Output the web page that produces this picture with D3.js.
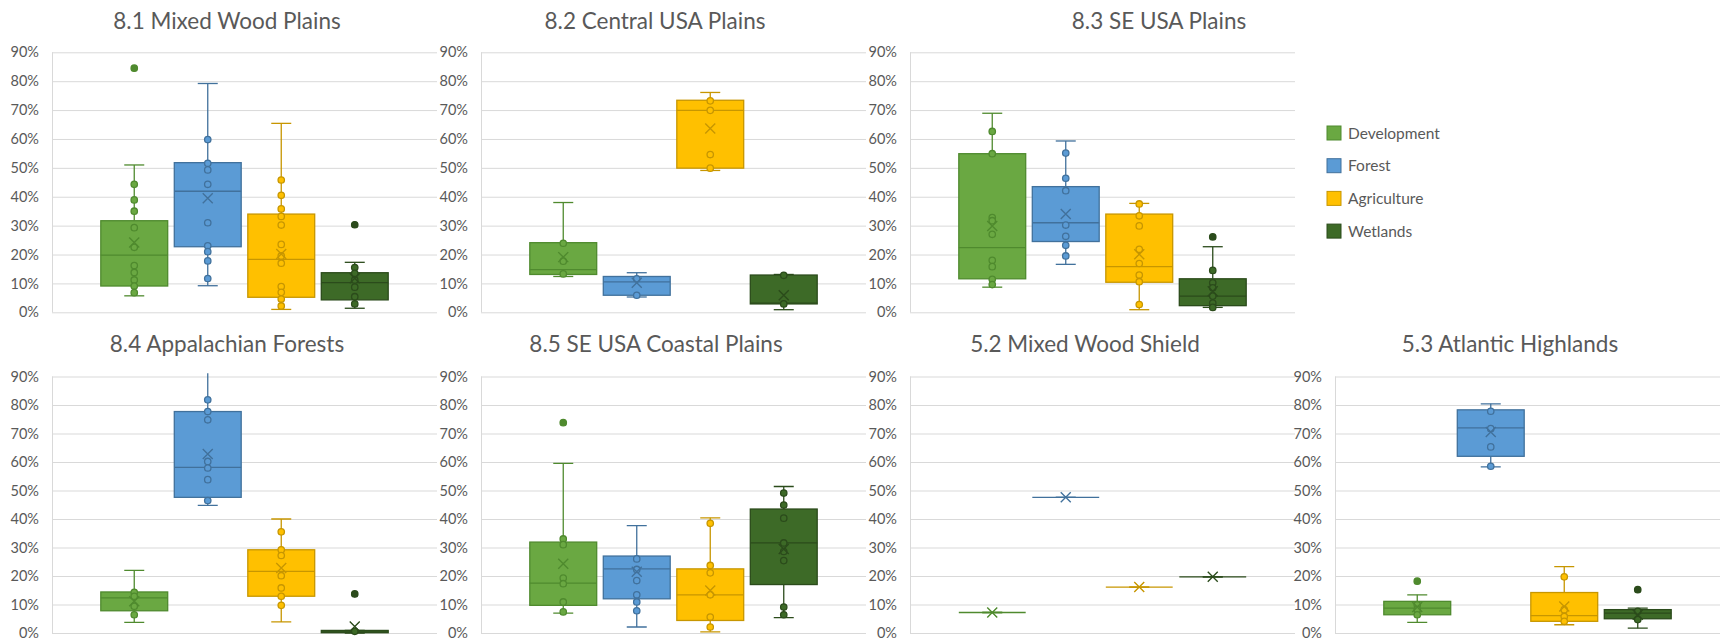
<!DOCTYPE html>
<html>
<head>
<meta charset="utf-8">
<script src="https://cdn.jsdelivr.net/npm/d3@7"></script>
<style>
  html, body { margin: 0; padding: 0; background: #ffffff; }
  svg { display: block; font-family: Lato, "Open Sans", sans-serif; }
</style>
</head>
<body>
<svg id="chart" width="1721" height="643"></svg>
<script>
// Land-cover shares by ecoregion: box-and-whisker summaries per class
const series = ["Development", "Forest", "Agriculture", "Wetlands"];
const regions = [
  "8.1 Mixed Wood Plains", "8.2 Central USA Plains", "8.3 SE USA Plains",
  "8.4 Appalachian Forests", "8.5 SE USA Coastal Plains",
  "5.2 Mixed Wood Shield", "5.3 Atlantic Highlands"
];
const yTicks = [0, 10, 20, 30, 40, 50, 60, 70, 80, 90];

// Each row: [whisker low, Q1, median, Q3, whisker high, mean] in percent
const stats81 = [[5.7, 9.1, 19.8, 31.7, 51.0, 24.2], [9.2, 22.7, 41.9, 51.8, 79.2, 39.5], [1.0, 5.2, 18.3, 34.0, 65.4, 20.2], [1.4, 4.3, 10.3, 13.7, 17.3, 11.8]];
const points81 = [[44.3, 38.9, 35.0, 29.3, 22.5, 16.2, 13.8, 11.2, 9.1, 6.8], [59.8, 51.6, 49.3, 44.3, 31.0, 23.0, 21.0, 17.8, 11.7], [45.8, 40.5, 35.8, 33.2, 30.2, 23.5, 19.5, 17.0, 8.9, 6.9, 4.6, 2.2], [15.5, 13.5, 11.2, 8.7, 5.4, 2.9]];
const outliers81 = [[84.5], [], [], [30.3]];

const stats82 = [[12.4, 13.1, 14.8, 24.1, 38.0, 19.1], [5.3, 5.9, 10.5, 12.4, 13.7, 10.2], [49.1, 49.9, 69.9, 73.4, 76.1, 63.6], [0.9, 2.9, 3.2, 12.9, 13.1, 5.9]];
const points82 = [[23.9, 17.7, 13.3], [11.6, 5.9], [73.2, 69.9, 54.6, 49.9], [12.8, 2.9]];
const outliers82 = [[], [], [], []];

const stats83 = [[8.7, 11.6, 22.4, 54.9, 68.9, 29.9], [16.6, 24.5, 31.0, 43.5, 59.3, 34.0], [0.9, 10.4, 15.8, 34.0, 37.7, 20.1], [1.7, 2.3, 5.6, 11.6, 22.7, 7.3]];
const points83 = [[62.6, 54.9, 32.8, 31.7, 27.0, 18.0, 15.8, 11.4, 9.6], [55.1, 46.4, 42.1, 30.2, 26.3, 23.2, 19.5], [37.5, 33.4, 29.9, 21.8, 16.9, 12.9, 10.6, 2.7], [14.5, 10.2, 8.5, 5.6, 3.2, 1.7]];
const outliers83 = [[], [], [], [26.1]];

const stats84 = [[3.7, 7.8, 12.3, 14.4, 22.0, 11.1], [44.8, 47.6, 58.1, 77.7, 93.0, 62.8], [3.9, 12.9, 21.6, 29.2, 40.0, 22.8], [0.0, 0.1, 0.4, 0.9, 0.9, 2.3]];
const points84 = [[14.3, 12.9, 9.4, 6.4], [81.8, 77.7, 74.8, 60.2, 57.9, 53.8, 46.5], [35.5, 29.2, 27.2, 20.1, 15.8, 12.9, 9.7], [0.6]];
const outliers84 = [[], [], [], [13.7]];

const stats85 = [[7.0, 9.7, 17.5, 31.9, 59.5, 24.3], [2.1, 12.0, 22.5, 27.0, 37.7, 21.5], [0.4, 4.4, 13.4, 22.5, 40.4, 14.9], [5.4, 17.0, 31.6, 43.5, 51.4, 29.5]];
const points85 = [[33.0, 31.0, 19.3, 17.3, 10.9, 7.4], [26.0, 22.3, 18.4, 13.4, 10.9, 7.8], [38.5, 23.7, 21.1, 13.4, 5.6, 2.1], [49.1, 44.9, 40.3, 31.6, 28.6, 25.4, 9.1, 6.4]];
const outliers85 = [[73.8], [], [], []];

const stats52 = [[7.2, 7.2, 7.2, 7.2, 7.2, 7.2], [47.6, 47.6, 47.6, 47.6, 47.6, 47.6], [16.1, 16.1, 16.1, 16.1, 16.1, 16.1], [19.7, 19.7, 19.7, 19.7, 19.7, 19.7]];
const points52 = [[], [], [], []];
const outliers52 = [[], [], [], []];

const stats53 = [[3.7, 6.4, 8.7, 11.1, 13.4, 9.1], [58.3, 62.0, 72.0, 78.3, 80.4, 70.5], [2.9, 4.1, 6.1, 14.2, 23.3, 9.3], [1.7, 5.0, 7.0, 8.2, 8.7, 6.4]];
const points53 = [[9.9, 8.2, 6.4], [77.8, 71.7, 65.3, 58.5], [19.7, 8.2, 5.8, 4.1], [7.6, 4.7]];
const outliers53 = [[18.2], [], [], [15.2]];

// Colours per class: box fill and darker line colour
const fills = ["#6aa842", "#5b9bd5", "#ffc000", "#3d6a27"];
const lines = ["#4f8a2e", "#41719c", "#c79600", "#2b4b1b"];

// Layout: plot-area left edge, row and title offset for each panel
const panelStats = [stats81, stats82, stats83, stats84, stats85, stats52, stats53];
const panelPoints = [points81, points82, points83, points84, points85, points52, points53];
const panelOutliers = [outliers81, outliers82, outliers83, outliers84, outliers85, outliers52, outliers53];
const panelLeft = [52, 481, 910, 52, 481, 910, 1335];
const panelRow = [0, 0, 0, 1, 1, 1, 1];
const titleOffset = [175, 174, 249, 175, 175, 175, 175];
const rowTop = [52.3, 376.5];
const rowBottom = [312.3, 633];
const titleBaseline = [29, 352];
const plotW = 385;

const svg = d3.select("#chart");
const defs = svg.append("defs");

regions.forEach((title, i) => {
  const row = panelRow[i];
  const left = panelLeft[i];
  const y = d3.scaleLinear().domain([0, 90]).range([rowBottom[row], rowTop[row]]);
  const x = d3.scaleBand().domain(series).range([0, plotW]).paddingInner(0.09).paddingOuter(0.664);

  const g = svg.append("g").attr("transform", `translate(${left},0)`);

  // title
  svg.append("text")
    .attr("x", left + titleOffset[i])
    .attr("y", titleBaseline[row])
    .attr("text-anchor", "middle")
    .attr("font-size", 22.5)
    .attr("fill", "#595959")
    .text(title);

  // gridlines
  const grid = g.append("g")
    .call(d3.axisLeft(y).tickValues(yTicks).tickSize(-plotW).tickFormat(""));
  grid.select(".domain").remove();
  grid.selectAll("line").attr("stroke", "#d9d9d9").attr("stroke-width", 1);

  // vertical axis line
  g.append("line")
    .attr("x1", 0.5).attr("x2", 0.5)
    .attr("y1", y(90)).attr("y2", y(0))
    .attr("stroke", "#d9d9d9");

  // tick labels
  const ax = g.append("g")
    .call(d3.axisLeft(y).tickValues(yTicks).tickSize(0).tickPadding(13).tickFormat(d => d + "%"));
  ax.select(".domain").remove();
  ax.selectAll("text")
    .attr("fill", "#595959")
    .attr("font-size", 14.5)
    .attr("font-family", "Lato, 'Open Sans', sans-serif");

  // clip marks to the plot area (slightly above the top gridline)
  const clipId = "clip" + i;
  defs.append("clipPath").attr("id", clipId)
    .append("rect")
    .attr("x", -5).attr("y", y(90) - 3.3)
    .attr("width", plotW + 10).attr("height", y(0) - y(90) + 10);

  const marks = g.append("g").attr("clip-path", `url(#${clipId})`);

  series.forEach((s, k) => {
    const [lo, q1, med, q3, hi, mean] = panelStats[i][k];
    const bw = x.bandwidth();
    const x0 = x(s);
    const cx = x0 + bw / 2;
    const capW = 20;
    const sg = marks.append("g");

    // whiskers
    sg.append("line").attr("x1", cx).attr("x2", cx).attr("y1", y(hi)).attr("y2", y(q3))
      .attr("stroke", lines[k]).attr("stroke-width", 1.3);
    sg.append("line").attr("x1", cx).attr("x2", cx).attr("y1", y(q1)).attr("y2", y(lo))
      .attr("stroke", lines[k]).attr("stroke-width", 1.3);
    [hi, lo].forEach(v => {
      sg.append("line").attr("x1", cx - capW / 2).attr("x2", cx + capW / 2)
        .attr("y1", y(v)).attr("y2", y(v))
        .attr("stroke", lines[k]).attr("stroke-width", 1.3);
    });

    // box
    sg.append("rect")
      .attr("x", x0).attr("width", bw)
      .attr("y", y(q3)).attr("height", Math.max(0, y(q1) - y(q3)))
      .attr("fill", fills[k])
      .attr("stroke", lines[k]).attr("stroke-width", 1.3);

    // median
    sg.append("line").attr("x1", x0).attr("x2", x0 + bw)
      .attr("y1", y(med)).attr("y2", y(med))
      .attr("stroke", lines[k]).attr("stroke-width", 1.3);

    // data points and outliers
    const pts = panelPoints[i][k].concat(panelOutliers[i][k]);
    sg.selectAll("circle.pt").data(pts).join("circle")
      .attr("class", "pt")
      .attr("cx", cx).attr("cy", d => y(d)).attr("r", 3.2)
      .attr("fill", fills[k])
      .attr("stroke", lines[k]).attr("stroke-width", 1.3);
    sg.selectAll("circle.out").data(panelOutliers[i][k]).join("circle")
      .attr("class", "out")
      .attr("cx", cx).attr("cy", d => y(d)).attr("r", 3.2)
      .attr("fill", lines[k]);

    // mean marker
    const m = 5;
    const my = y(mean);
    sg.append("path")
      .attr("d", `M${cx - m},${my - m}L${cx + m},${my + m}M${cx - m},${my + m}L${cx + m},${my - m}`)
      .attr("stroke", lines[k]).attr("stroke-width", 1.4).attr("fill", "none");
  });
});

// legend
const legend = svg.append("g").attr("transform", "translate(1327,133)");
series.forEach((s, k) => {
  const lg = legend.append("g").attr("transform", `translate(0,${k * 32.7})`);
  lg.append("rect").attr("x", 0).attr("y", -7).attr("width", 14).attr("height", 14)
    .attr("fill", fills[k]).attr("stroke", lines[k]).attr("stroke-width", 1);
  lg.append("text").attr("x", 21).attr("y", 5.5)
    .attr("font-size", 15.5).attr("fill", "#595959").text(s);
});
</script>
</body>
</html>
